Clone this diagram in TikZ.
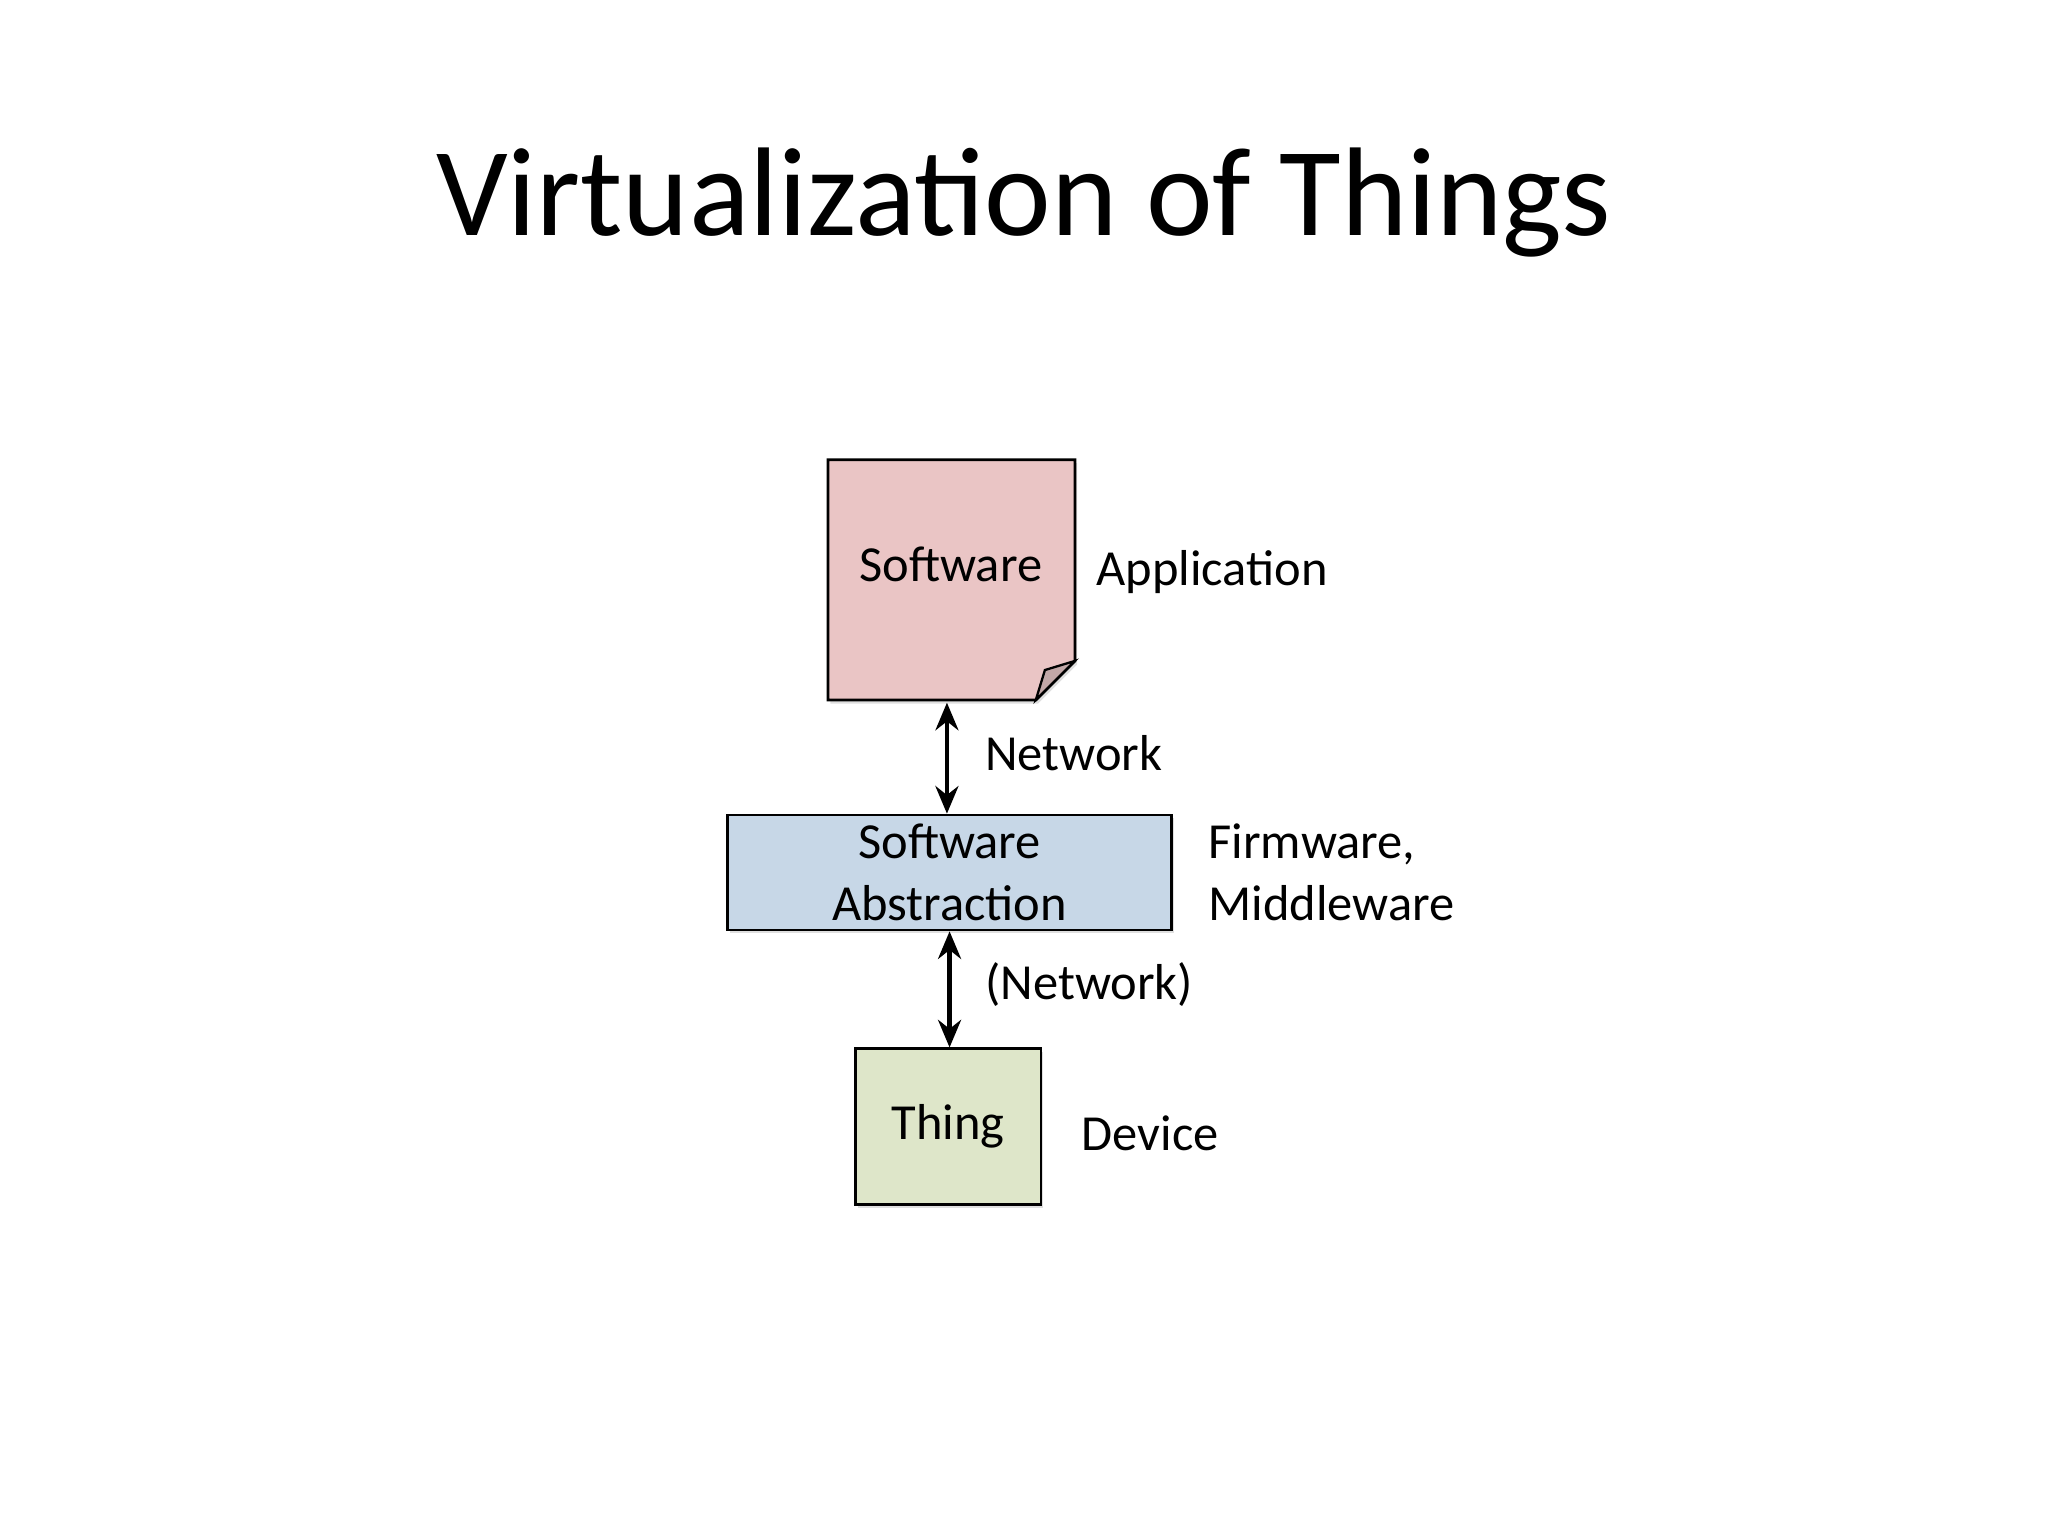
\documentclass[tikz,border=0pt]{standalone}
\usepackage{fontspec}
\setmainfont{Carlito}
\usetikzlibrary{arrows.meta,shadows}
\definecolor{pinkf}{HTML}{EAC5C5}
\definecolor{bluef}{HTML}{C7D7E7}
\definecolor{greenf}{HTML}{DEE6C9}
\tikzset{
 shad/.style={drop shadow={opacity=0.25,shadow xshift=1pt,shadow yshift=-1.5pt}},
 box/.style={draw=black,line width=1.2pt,shad,inner sep=0pt,align=center,font=\fontsize{22}{27}\selectfont},
 lbl/.style={font=\fontsize{22}{27}\selectfont,anchor=west,inner sep=0pt,align=left},
 blbl/.style={font=\fontsize{22}{27}\selectfont,inner sep=0pt,align=center},
 dbl/.style={{Stealth[length=12pt,width=10pt]}-{Stealth[length=12pt,width=10pt]},line width=2pt}
}
\begin{document}
\begin{tikzpicture}[x=0.02cm,y=-0.02cm]
\useasboundingbox (0,0) rectangle (1568,1176);
\node[font=\fontsize{55}{60}\selectfont] (title) at (784,155) {Virtualization of Things};
% Software note
\filldraw[fill=pinkf,line width=1.2pt,shad]
 (634,352) -- (823,352) -- (823,506) -- (793,536) -- (634,536) -- cycle;
\filldraw[fill=pinkf!80!black!90,line width=1pt] (793,536) -- (800,513) -- (823,506) -- cycle;
\node[blbl] (sw) at (728,432) {Software};
\coordinate (swb) at (725,538);
\node[box,fill=bluef,minimum width=6.8cm,minimum height=1.76cm] (sa) at (727,668) {Software\\Abstraction};
\node[box,fill=greenf,minimum width=2.84cm,minimum height=2.38cm] (th) at (726,862.5) {Thing};
\draw[dbl] (swb) -- (sa.north -| swb);
\draw[dbl] (sa.south -| 727,0) -- (th.north -| 727,0);
\node[lbl] (app) at (839,438) {Application};
\node[lbl] (net) at (754,577) {Network};
\node[lbl] (fw) at (925,668) {Firmware,\\Middleware};
\node[lbl] (net2) at (754,754) {(Network)};
\node[lbl] (dev) at (828,868) {Device};
\end{tikzpicture}
\end{document}
